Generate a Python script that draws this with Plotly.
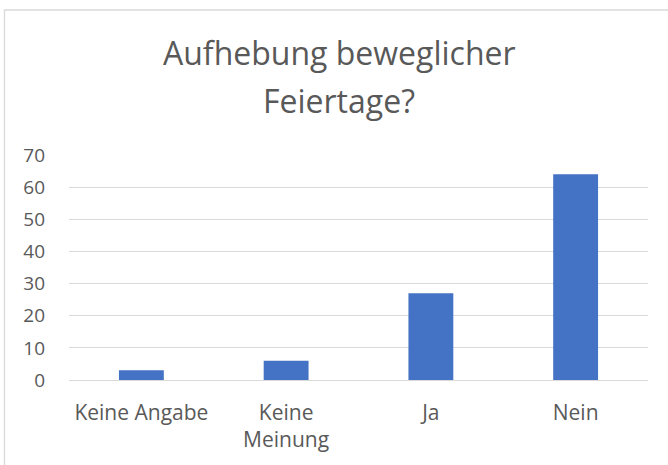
import plotly.graph_objects as go

categories = ["Keine Angabe", "Keine<br>Meinung", "Ja", "Nein"]
values = [3, 6, 27, 64]
y_ticks = [0, 10, 20, 30, 40, 50, 60, 70]
title_lines = ["Aufhebung beweglicher", "Feiertage?"]

W, H = 668, 465
L, R, T, B = 69, 20, 155, 85
pw = W - L - R
ph = H - T - B

def px_x(x):
    return (x - L) / pw

def px_y(y):
    return (H - B - y) / ph

fig = go.Figure(go.Bar(
    x=categories, y=values,
    marker=dict(color="#4472C4", line=dict(width=0)),
    width=0.31,
))

title_y = [53, 100]
annotations = [
    dict(text=t, xref="paper", yref="paper", x=px_x(339), y=px_y(yy),
         xanchor="center", yanchor="middle", showarrow=False,
         font=dict(family="Open Sans", size=32, color="#595959"))
    for t, yy in zip(title_lines, title_y)
]

fig.update_layout(
    width=W, height=H,
    margin=dict(l=L, r=R, t=T, b=B),
    paper_bgcolor="white", plot_bgcolor="white",
    font=dict(family="Open Sans", color="#595959", size=19),
    showlegend=False,
    annotations=annotations,
    xaxis=dict(showgrid=False, showline=False, ticks="", tickfont=dict(size=21),
               ticklabelstandoff=18),
    yaxis=dict(range=[0, 70], tickvals=y_ticks, showgrid=True, gridcolor="#D9D9D9",
               gridwidth=1.3, zeroline=True, zerolinecolor="#D9D9D9", zerolinewidth=1.3,
               showline=False, ticks="", tickfont=dict(size=19), ticklabelstandoff=23),
    shapes=[dict(type="rect", xref="paper", yref="paper",
                 x0=px_x(4.5), x1=px_x(700), y0=px_y(10), y1=px_y(500),
                 line=dict(color="#D9D9D9", width=1.3), fillcolor="rgba(0,0,0,0)",
                 layer="below")],
)

fig.write_html("out.html", config={"displayModeBar": False},
               post_script="document.body.style.margin='0';document.body.style.overflow='hidden';")
